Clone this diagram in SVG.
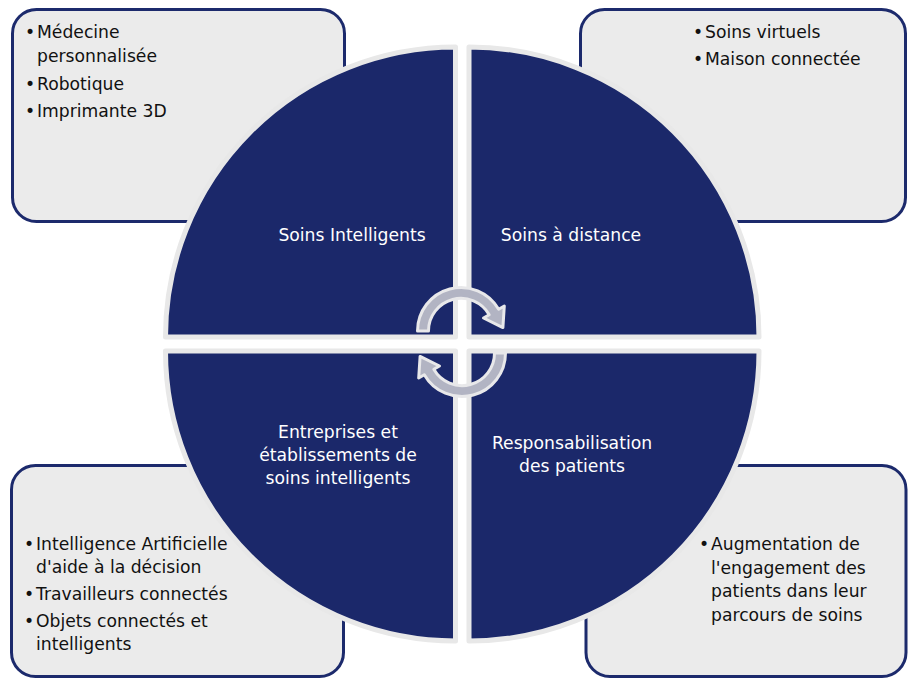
<svg xmlns="http://www.w3.org/2000/svg" width="908" height="678" viewBox="0 0 908 678">
<style>
.box{fill:#ebebeb;stroke:#1c2a6c;stroke-width:3}
.quad{fill:#1b286a;stroke:#e8e8e8;stroke-width:5;stroke-linejoin:round}
.t{font-family:"DejaVu Sans","Liberation Sans",sans-serif;font-size:17.2px;fill:#111111}
.w{font-family:"DejaVu Sans","Liberation Sans",sans-serif;font-size:17.2px;fill:#ffffff;text-anchor:middle}
.arr{fill:#b2b4c3;stroke:#e8e8ea;stroke-width:3;stroke-linejoin:round}
</style>
<rect width="908" height="678" fill="#ffffff"/>
<g id="box-tl">
<rect class="box" x="12.5" y="9.5" width="332" height="212" rx="24"/>
<text class="t"><tspan x="25" y="37.7">•</tspan><tspan x="37" y="37.7">Médecine</tspan><tspan x="37" y="61.7">personnalisée</tspan><tspan x="25" y="90">•</tspan><tspan x="37" y="90">Robotique</tspan><tspan x="25" y="117.3">•</tspan><tspan x="37" y="117.3">Imprimante 3D</tspan></text>
</g>
<g id="box-tr">
<rect class="box" x="580.5" y="9.5" width="325" height="212" rx="24"/>
<text class="t"><tspan x="693" y="38.3">•</tspan><tspan x="705" y="38.3">Soins virtuels</tspan><tspan x="693" y="65">•</tspan><tspan x="705" y="65">Maison connectée</tspan></text>
</g>
<g id="box-bl">
<rect class="box" x="11.5" y="465.5" width="332" height="211" rx="24"/>
<text class="t"><tspan x="24" y="550">•</tspan><tspan x="36" y="550">Intelligence Artificielle</tspan><tspan x="36" y="573.3">d'aide à la décision</tspan><tspan x="24" y="600">•</tspan><tspan x="36" y="600">Travailleurs connectés</tspan><tspan x="24" y="626.7">•</tspan><tspan x="36" y="626.7">Objets connectés et</tspan><tspan x="36" y="650">intelligents</tspan></text>
</g>
<g id="box-br">
<rect class="box" x="586" y="465.5" width="320" height="211" rx="24"/>
<text class="t"><tspan x="699" y="550">•</tspan><tspan x="711" y="550">Augmentation de</tspan><tspan x="711" y="573.5">l'engagement des</tspan><tspan x="711" y="597">patients dans leur</tspan><tspan x="711" y="620.5">parcours de soins</tspan></text>
</g>
<g id="quad-tl">
<path class="quad" d="M455.5,337 L165.5,337 A290,290 0 0 1 455.5,47 Z"/>
<text class="w" x="352" y="241">Soins Intelligents</text>
</g>
<g id="quad-tr">
<path class="quad" d="M469,337 L469,47 A290,290 0 0 1 759,337 Z"/>
<text class="w" x="571" y="241">Soins à distance</text>
</g>
<g id="quad-bl">
<path class="quad" d="M455.5,351 L455.5,641 A290,290 0 0 1 165.5,351 Z"/>
<text class="w"><tspan x="338" y="438">Entreprises et</tspan><tspan x="338" y="461">établissements de</tspan><tspan x="338" y="484">soins intelligents</tspan></text>
</g>
<g id="quad-br">
<path class="quad" d="M469,351 L759,351 A290,290 0 0 1 469,641 Z"/>
<text class="w"><tspan x="572" y="449">Responsabilisation</tspan><tspan x="572" y="472">des patients</tspan></text>
</g>
<g id="connectors">
<path class="arr" d="M417.5,331 A43.5,43.5 0 0 1 498.7,309.25 L504.3,306 L502.9,327.6 L483.5,318 L489.2,314.75 A32.5,32.5 0 0 0 428.5,331 Z"/>
<path class="arr" transform="rotate(180 461.5 342)" d="M417.5,331 A43.5,43.5 0 0 1 498.7,309.25 L504.3,306 L502.9,327.6 L483.5,318 L489.2,314.75 A32.5,32.5 0 0 0 428.5,331 Z"/>
</g>
</svg>
